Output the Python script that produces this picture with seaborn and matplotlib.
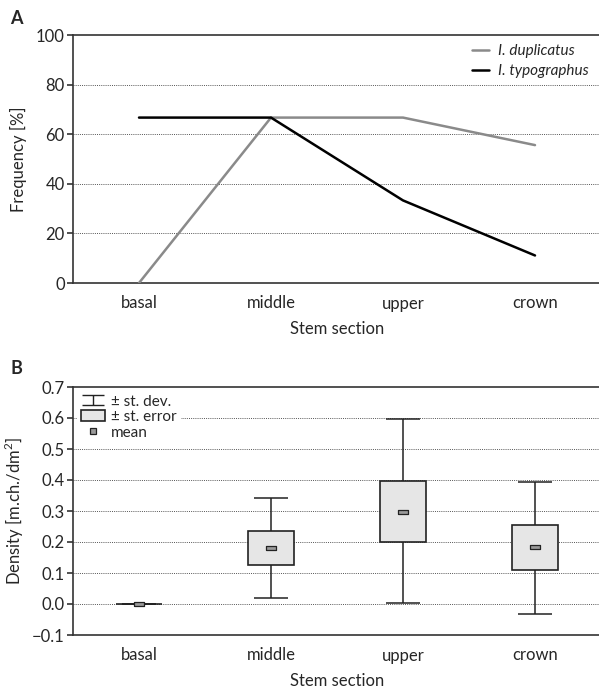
import numpy as np
import pandas as pd
import matplotlib
matplotlib.use("Agg")
import matplotlib.pyplot as plt
import seaborn as sns
from matplotlib.lines import Line2D
from matplotlib.patches import Patch
from matplotlib.path import Path

sections = ["basal", "middle", "upper", "crown"]

# panel A: frequency of galleries [%]
freq_duplicatus = [0.0, 66.7, 66.7, 55.6]
freq_typographus = [66.7, 66.7, 33.3, 11.1]

# panel B: density of mother chambers per dm2
dens_mean = [0.0, 0.18, 0.298, 0.183]
dens_se_low = [0.0, 0.127, 0.200, 0.111]
dens_se_high = [0.0, 0.234, 0.398, 0.254]
dens_sd_low = [0.0, 0.020, 0.002, -0.031]
dens_sd_high = [0.0, 0.341, 0.596, 0.395]

sns.set_style("white")
plt.rcParams['font.family'] = ['Lato', 'DejaVu Sans']
plt.rcParams['mathtext.fontset'] = 'custom'
plt.rcParams['mathtext.rm'] = 'Lato'

fig = plt.figure(figsize=(5.99, 6.90), dpi=100)
ax1 = fig.add_axes([73 / 599, 1 - 283 / 690, 528 / 599, 248 / 690])
ax2 = fig.add_axes([73 / 599, 1 - 635 / 690, 528 / 599, 248 / 690])

edge = "#333333"
grey_line = "#8a8a8a"


def style_axis(ax):
    for side in ["top", "left", "bottom"]:
        ax.spines[side].set_color(edge)
        ax.spines[side].set_linewidth(1.2)
    ax.spines["right"].set_visible(False)
    ax.set_xlim(-0.5, 3.5)
    ax.set_xticks(range(4))
    ax.set_xticklabels(sections)
    ax.set_xticks([0.5, 1.5, 2.5], minor=True)
    ax.tick_params(axis="x", which="major", length=0, pad=9, labelsize=12)
    ax.tick_params(axis="x", which="minor", length=4, width=1.2, color=edge, direction="out")
    ax.tick_params(axis="y", which="major", length=4, width=1.2, color=edge, direction="out",
                   labelsize=12, pad=2, left=True)
    ax.set_xlabel("Stem section", fontsize=12, labelpad=7)


# ---- panel A
freq_df = pd.DataFrame({
    "section": sections * 2,
    "freq": freq_duplicatus + freq_typographus,
    "species": ["I. duplicatus"] * 4 + ["I. typographus"] * 4,
})
sns.lineplot(data=freq_df, x="section", y="freq", hue="species",
             palette={"I. duplicatus": grey_line, "I. typographus": "black"},
             linewidth=1.8, ax=ax1, legend=False, zorder=3)
ax1.set_ylim(0, 100)
ax1.set_yticks(range(0, 101, 20))
for v in range(20, 100, 20):
    ax1.axhline(v, color="#555555", linestyle=(0, (1, 1.2)), linewidth=0.7, zorder=1)
style_axis(ax1)
ax1.set_ylabel("Frequency [%]", fontsize=12, labelpad=6)
hA = [Line2D([], [], color=grey_line, lw=1.8), Line2D([], [], color="black", lw=1.8)]
ax1.legend(hA, ["I. duplicatus", "I. typographus"], loc="upper right",
           bbox_to_anchor=(0.995, 1.0), frameon=False, handlelength=1.1, handletextpad=0.6,
           labelspacing=0.4, borderaxespad=0.2, prop={"style": "italic", "size": 11})

# ---- panel B
dens_df = pd.DataFrame({
    "section": sections,
    "mean": dens_mean,
    "se_low": dens_se_low,
    "se_high": dens_se_high,
    "sd_low": dens_sd_low,
    "sd_high": dens_sd_high,
})
for v in np.arange(0.0, 0.65, 0.1):
    ax2.axhline(v, color="#555555", linestyle=(0, (1, 1.2)), linewidth=0.7, zorder=0)
pos = np.arange(len(sections))
ax2.errorbar(pos, dens_df["mean"],
             yerr=[dens_df["mean"] - dens_df["sd_low"], dens_df["sd_high"] - dens_df["mean"]],
             fmt="none", ecolor="#222222", elinewidth=1.1, capsize=12.5, capthick=1.1, zorder=2)
ax2.bar(pos, dens_df["se_high"] - dens_df["se_low"], bottom=dens_df["se_low"], width=0.35,
        color="#e6e6e6", edgecolor="#222222", linewidth=1.2, zorder=3)
mean_marker = Path([(-1, -0.5), (1, -0.5), (1, 0.5), (-1, 0.5), (-1, -0.5)])
sns.scatterplot(x=pos, y=dens_df["mean"], marker=mean_marker, s=45, color="#9a9a9a",
                edgecolor="#222222", linewidth=0.9, ax=ax2, zorder=4, legend=False)
ax2.set_ylim(-0.1, 0.7)
ax2.set_yticks(np.round(np.arange(-0.1, 0.71, 0.1), 1))
ax2.set_yticklabels(["\u22120.1"] + [f"{v:.1f}" for v in np.arange(0.0, 0.71, 0.1)])
style_axis(ax2)
ax2.set_ylabel("Density [m.ch./dm$^2$]", fontsize=12, labelpad=4)

sd_path = Path([(-1, 0.45), (1, 0.45), (0, 0.45), (0, -0.45), (-1, -0.45), (1, -0.45)],
               [Path.MOVETO, Path.LINETO, Path.MOVETO, Path.LINETO, Path.MOVETO, Path.LINETO])
hB = [
    Line2D([], [], marker=sd_path, linestyle="none", markersize=16, markerfacecolor="none",
           markeredgecolor="#222222", markeredgewidth=1.0),
    Patch(facecolor="#e6e6e6", edgecolor="#222222", linewidth=1.2),
    Line2D([], [], marker="s", linestyle="none", markersize=4.5, markerfacecolor="#9a9a9a",
           markeredgecolor="#222222", markeredgewidth=0.9),
]
leg = ax2.legend(hB, ["\u00b1 st. dev.", "\u00b1 st. error", "mean"], loc="upper left",
                 frameon=True, fancybox=False, framealpha=1, edgecolor="none",
                 handlelength=1.6, handleheight=0.7, handletextpad=0.4, labelspacing=0.1,
                 borderaxespad=0.25, borderpad=0.25, prop={"size": 11})
leg.set_zorder(5)

fig.text(10 / 599, 1 - 18 / 690, "A", fontsize=13, fontweight="bold", va="center")
fig.text(10 / 599, 1 - 368 / 690, "B", fontsize=13, fontweight="bold", va="center")

fig.savefig("out.png", dpi=100)
